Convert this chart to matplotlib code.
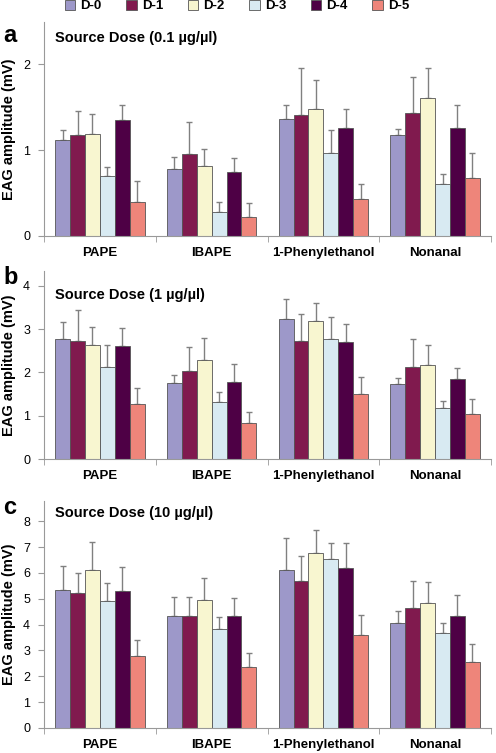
import numpy as np
import matplotlib.pyplot as plt

plt.rcParams['font.family'] = ['Liberation Sans', 'DejaVu Sans']

# Data
compounds = ['PAPE', 'IBAPE', '1-Phenylethanol', 'Nonanal']
series = ['D-0', 'D-1', 'D-2', 'D-3', 'D-4', 'D-5']
colors = ['#9d98c9', '#801a4e', '#f8f6d0', '#d8eaf2', '#4e0045', '#ee857a']

# panel a: source dose 0.1 ug/ul  (rows = compounds, cols = D-0..D-5)
means_a = [[1.12, 1.18, 1.19, 0.70, 1.35, 0.39],
           [0.78, 0.95, 0.82, 0.28, 0.74, 0.22],
           [1.36, 1.41, 1.48, 0.96, 1.26, 0.43],
           [1.18, 1.43, 1.60, 0.61, 1.26, 0.67]]
upper_a = [[1.23, 1.45, 1.42, 0.80, 1.53, 0.64],
           [0.92, 1.33, 1.01, 0.40, 0.91, 0.38],
           [1.52, 1.95, 1.81, 1.23, 1.48, 0.60],
           [1.24, 1.85, 1.96, 0.72, 1.53, 0.97]]

# panel b: source dose 1 ug/ul
means_b = [[2.76, 2.73, 2.63, 2.12, 2.62, 1.27],
           [1.75, 2.02, 2.28, 1.31, 1.78, 0.82],
           [3.23, 2.73, 3.18, 2.78, 2.71, 1.51],
           [1.72, 2.13, 2.16, 1.17, 1.84, 1.03]]
upper_b = [[3.16, 3.44, 3.04, 2.63, 3.03, 1.65],
           [1.95, 2.58, 2.79, 1.54, 2.19, 1.09],
           [3.70, 3.35, 3.60, 3.27, 3.12, 1.90],
           [1.88, 2.76, 2.63, 1.35, 2.09, 1.38]]

# panel c: source dose 10 ug/ul
means_c = [[5.35, 5.22, 6.10, 4.90, 5.31, 2.78],
           [4.35, 4.33, 4.96, 3.81, 4.34, 2.36],
           [6.10, 5.67, 6.78, 6.55, 6.20, 3.58],
           [4.08, 4.64, 4.82, 3.66, 4.34, 2.55]]
upper_c = [[6.28, 6.01, 7.18, 5.62, 6.21, 3.40],
           [5.08, 5.08, 5.79, 4.28, 5.01, 2.91],
           [7.34, 6.64, 7.65, 7.15, 7.15, 4.38],
           [4.51, 5.67, 5.63, 4.08, 5.13, 3.24]]

panels = [
    ('a', 'Source Dose (0.1 \u00b5g/\u00b5l)', means_a, upper_a, [0, 1, 2], 2.49),
    ('b', 'Source Dose (1 \u00b5g/\u00b5l)', means_b, upper_b, [0, 1, 2, 3, 4], 4.34),
    ('c', 'Source Dose (10 \u00b5g/\u00b5l)', means_c, upper_c, list(range(9)), 8.78),
]

W, H = 496, 753
fig = plt.figure(figsize=(W / 100, H / 100), dpi=100)

# axes boxes in pixels: (left, top, right, bottom)
boxes = [(44, 22, 491, 236), (44, 271, 491, 459), (44, 501, 491, 728)]
title_y = [38, 295, 513]
letter_y = [35, 277, 507]

n = len(series)
bw = 0.8 / n
x = np.arange(len(compounds))

for k, ((letter, title, means, upper, yt, ytop), (l, t, r, b)) in enumerate(zip(panels, boxes)):
    ax = fig.add_axes([l / W, 1 - b / H, (r - l) / W, (b - t) / H])
    means = np.array(means)
    err = np.array(upper) - means
    for i, s in enumerate(series):
        pos = x - 0.4 + bw * (i + 0.5)
        ax.bar(pos, means[:, i], width=bw, color=colors[i], edgecolor='#555555',
               linewidth=0.6, label=s, zorder=2)
        ax.errorbar(pos, means[:, i], yerr=[np.zeros(len(x)), err[:, i]],
                    fmt='none', ecolor='#808080', elinewidth=1, capsize=2,
                    capthick=1, zorder=1)
    ax.set_xlim(-0.5, len(compounds) - 0.5)
    ax.set_ylim(0, ytop)
    ax.set_yticks(yt)
    ax.set_xticks(x)
    ax.set_xticklabels(compounds, fontweight='bold', fontsize=9.5)
    ax.tick_params(axis='x', length=0, pad=8)
    ax.set_xticks(np.arange(len(compounds) + 1) - 0.5, minor=True)
    ax.tick_params(axis='x', which='minor', length=4, color='#999999')
    ax.tick_params(axis='y', length=4, color='#999999', labelsize=9, pad=6)
    for sp in ['top', 'right']:
        ax.spines[sp].set_visible(False)
    for sp in ['left', 'bottom']:
        ax.spines[sp].set_color('#999999')
    ax.set_ylabel('EAG amplitude (mV)', fontweight='bold', fontsize=10.5, labelpad=5)
    ax.text(55 / W, 1 - title_y[k] / H, title, transform=fig.transFigure,
            fontweight='bold', fontsize=10.5, va='center')
    fig.text(3 / W, 1 - letter_y[k] / H, letter, fontweight='bold', fontsize=17,
             va='center')

handles, labels = ax.get_legend_handles_labels()
fig.legend(handles, labels, loc='upper center', bbox_to_anchor=(0.478, 1.016),
           ncol=6, frameon=False, prop={'weight': 'bold', 'size': 9.5},
           handlelength=0.8, handleheight=0.8, handletextpad=0.4,
           columnspacing=1.85)

fig.savefig('out.png', dpi=100, facecolor='white')
